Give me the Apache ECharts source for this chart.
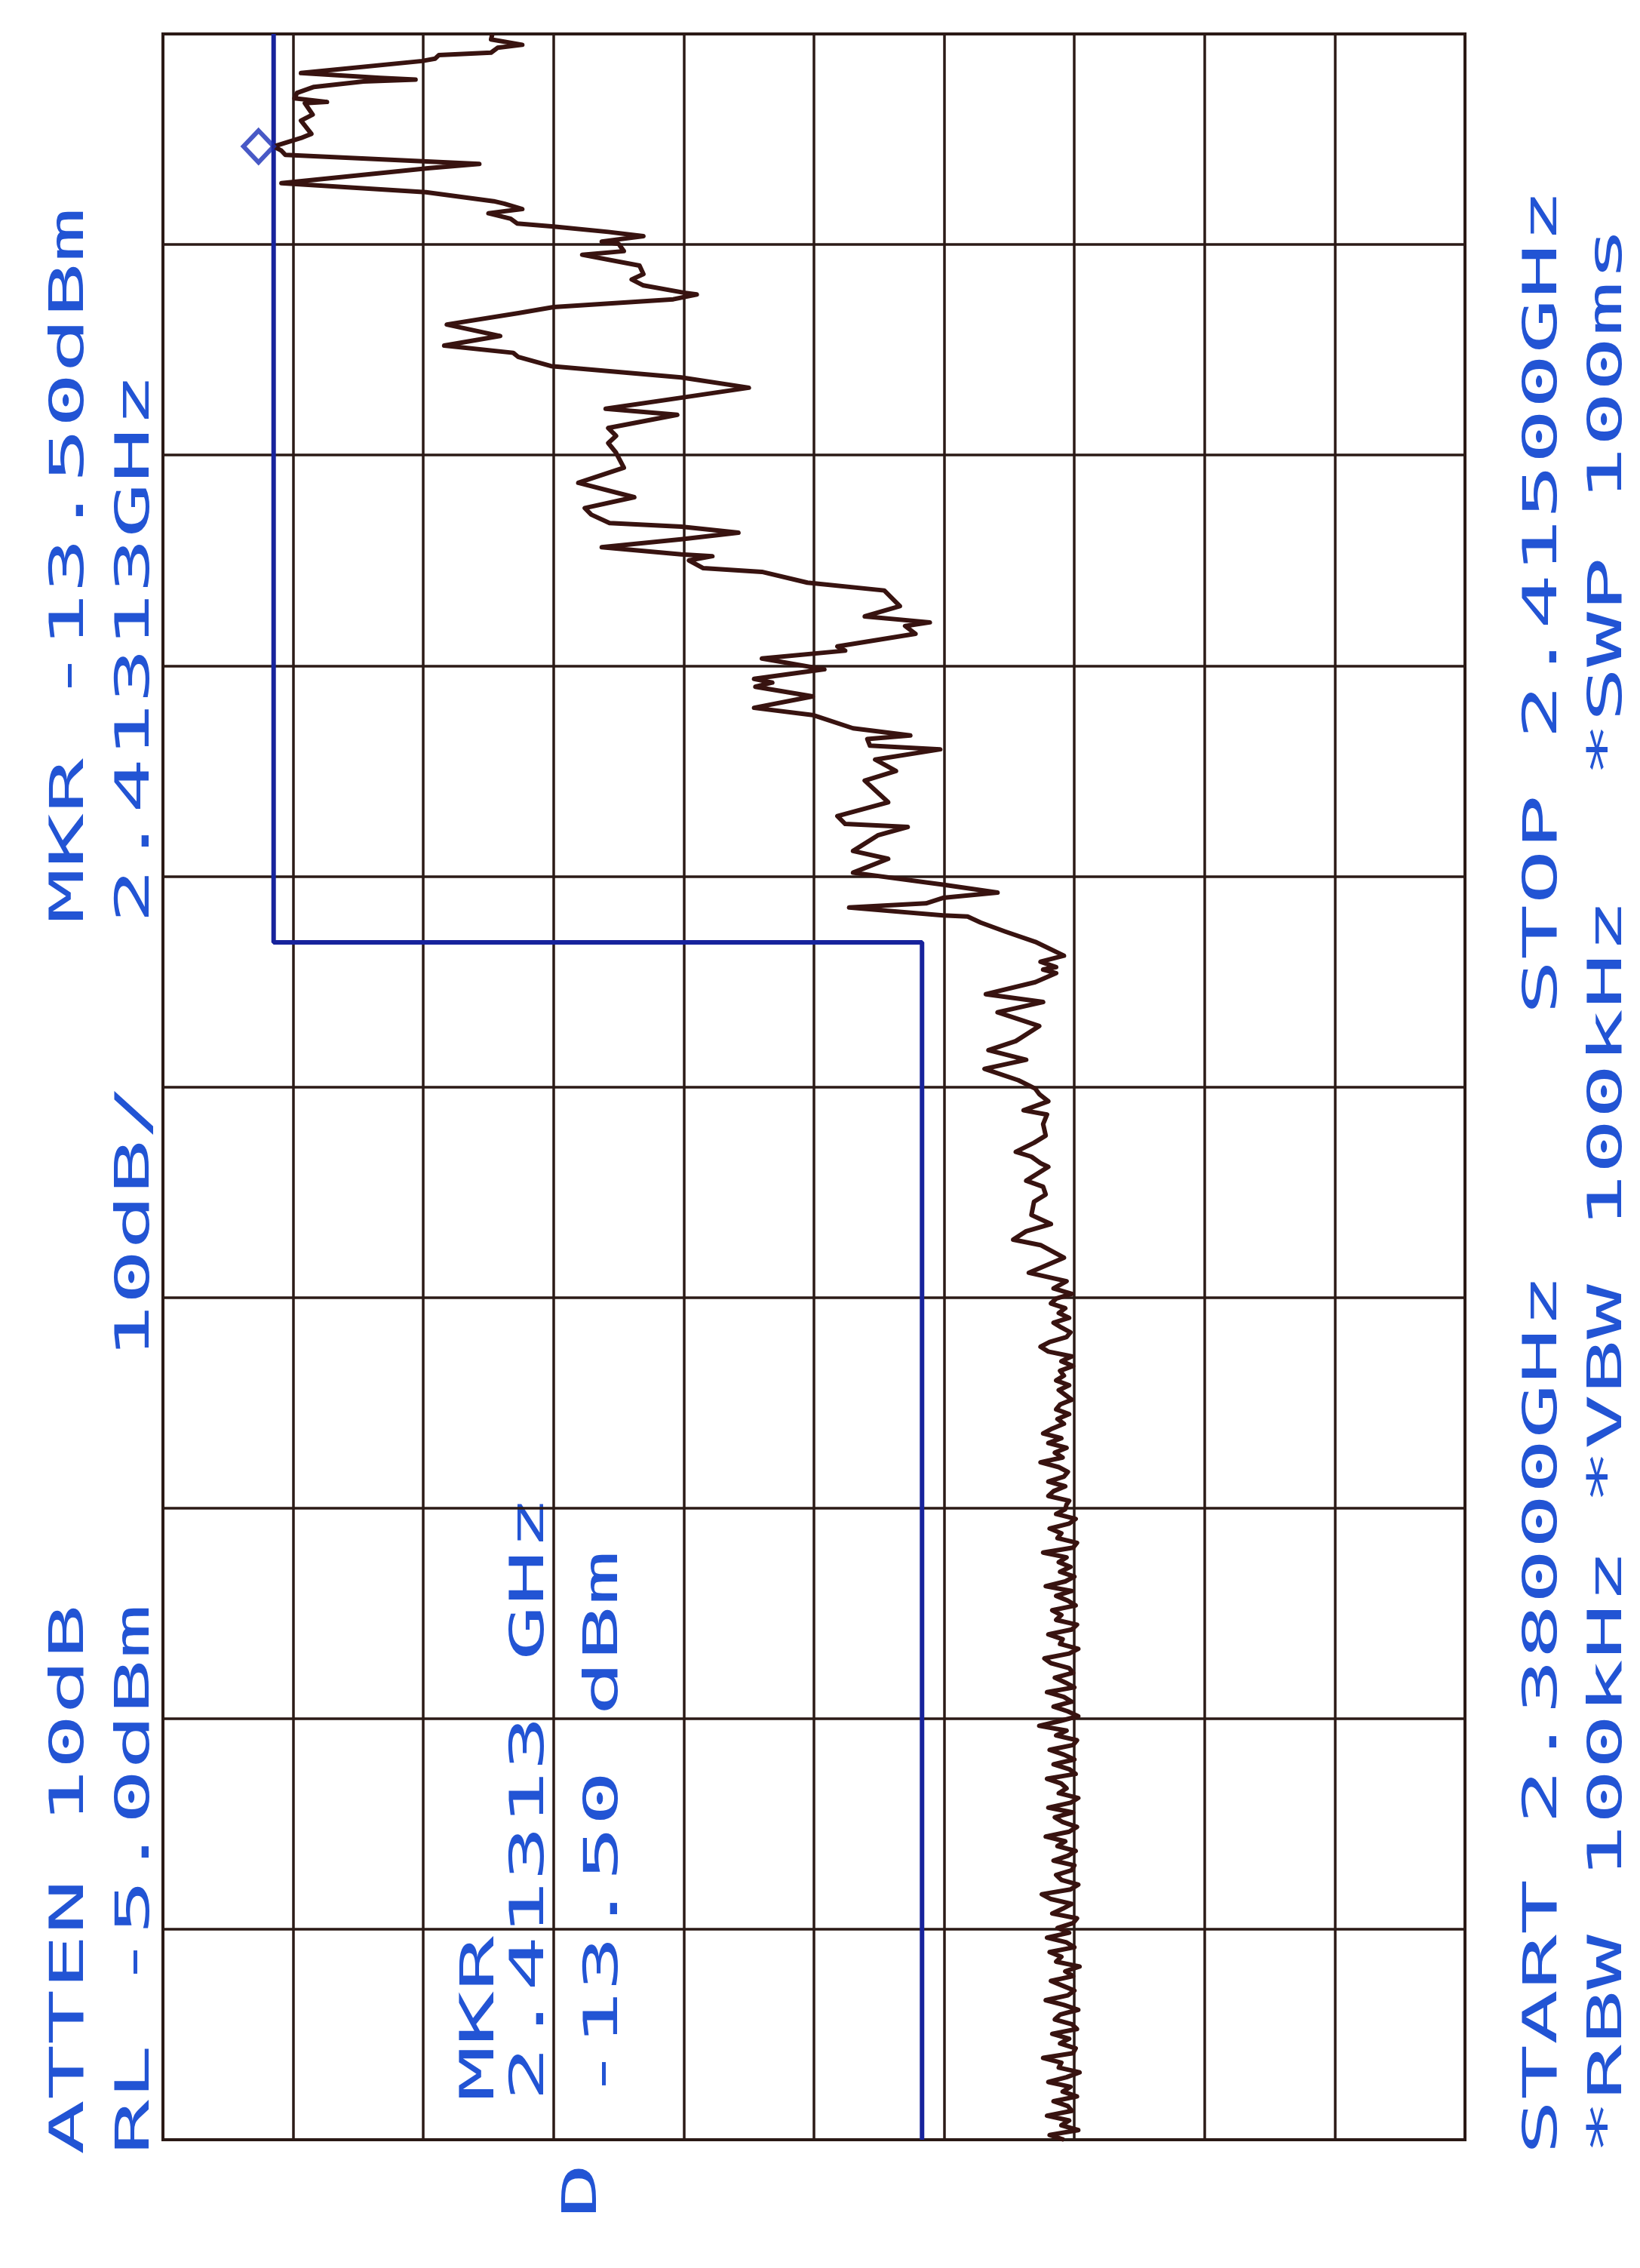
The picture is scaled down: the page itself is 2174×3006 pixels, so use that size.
<!DOCTYPE html>
<html><head><meta charset="utf-8">
<script src="https://cdn.jsdelivr.net/npm/echarts@6/dist/echarts.min.js"></script>
<style>html,body{margin:0;padding:0;background:#fff}#c{width:2174px;height:3006px}</style>
</head><body><div id="c"></div>
<script>
// Spectrum analyzer trace (frequency in MHz, amplitude in dBm), high part (descending freq)
const upperFreq = [2415.00,2414.91,2414.82,2414.77,2414.69,2414.65,2414.59,2414.55,2414.35,2414.27,2414.24,2414.21,2414.12,2414.02,2413.93,2413.87,2413.85,2413.66,2413.56,2413.34,2413.27,2413.13,2413.06,2412.99,2412.84,2412.77,2412.52,2412.37,2412.22,2412.18,2412.09,2412.02,2411.93,2411.85,2411.80,2411.71,2411.64,2411.55,2411.51,2411.39,2411.33,2411.15,2411.01,2410.92,2410.82,2410.70,2410.67,2410.59,2410.46,2410.36,2410.17,2409.98,2409.82,2409.70,2409.63,2409.48,2409.29,2409.12,2408.96,2408.77,2408.67,2408.45,2408.32,2408.20,2408.04,2407.79,2407.54,2407.30,2407.12,2407.01,2406.87,2406.81,2406.71,2406.60,2406.47,2406.35,2406.32,2406.25,2406.12,2406.06,2405.88,2405.75,2405.49,2405.32,2405.22,2405.16,2405.03,2404.82,2404.75,2404.62,2404.44,2404.28,2404.22,2404.15,2403.99,2403.80,2403.68,2403.46,2403.34,2403.28,2403.17,2403.11,2402.94,2402.75,2402.59,2402.23,2402.00,2401.87,2401.82,2401.68,2401.42,2401.29,2401.06,2400.86,2400.73,2400.64,2400.55,2400.48,2400.35,2400.33,2400.23,2400.08,2399.91,2399.68,2399.58,2399.49,2399.45,2399.39,2399.24,2399.04,2398.91,2398.74,2398.51,2398.26,2398.11,2397.95,2397.80,2397.61,2397.47,2397.38,2397.26,2397.11,2397.04,2396.88,2396.69,2396.57,2396.42,2396.34,2396.23,2396.17,2395.94,2395.84,2395.71,2395.59,2395.37,2395.22,2395.10,2394.96,2394.87,2394.66,2394.41,2394.27,2394.15,
2394.06,2393.98,2393.90,2393.82,2393.74,2393.66,2393.58,2393.50,2393.42,2393.34,2393.26,2393.18,2393.10,2393.02,2392.94,2392.86,2392.78,2392.70,2392.62,2392.54,2392.46,2392.38,2392.30,2392.22,2392.14,2392.06,2391.98,2391.90,2391.82,2391.74,2391.66,2391.58,2391.50,2391.42,2391.34,2391.26,2391.18,2391.10,2391.02,2390.94,2390.86,2390.78,2390.70,2390.62,2390.56];
const upperAmp = [-30.3,-30.2,-32.6,-30.7,-30.2,-26.2,-25.9,-24.9,-15.6,-21.7,-24.4,-20.4,-16.6,-15.3,-15.1,-17.6,-15.9,-16.5,-15.6,-16.4,-15.6,-13.5,-14.1,-14.4,-29.3,-25.5,-14.1,-25.2,-30.4,-31.2,-32.6,-30.0,-31.7,-32.2,-35.0,-39.2,-41.9,-38.7,-40.0,-40.4,-37.2,-41.6,-41.9,-41.0,-41.9,-45.0,-46.0,-44.2,-35.0,-32.3,-26.8,-30.9,-26.6,-31.9,-32.3,-34.8,-44.8,-50.0,-45.0,-39.0,-44.5,-39.2,-39.8,-39.2,-39.8,-40.4,-36.9,-41.2,-37.4,-37.9,-39.3,-44.8,-49.2,-44.8,-38.7,-44.8,-47.2,-45.4,-46.5,-51.0,-54.5,-60.4,-61.6,-58.9,-63.9,-62.0,-62.8,-56.8,-57.4,-51.0,-55.8,-50.4,-51.8,-50.5,-54.9,-50.4,-54.9,-58.0,-62.4,-59.1,-59.3,-64.7,-59.7,-61.3,-58.9,-60.7,-56.8,-57.4,-62.2,-59.9,-58.0,-60.7,-58.0,-64.9,-69.1,-64.9,-63.6,-57.7,-64.9,-66.8,-67.8,-69.7,-72.0,-74.2,-72.4,-73.6,-72.6,-73.6,-72.0,-68.2,-72.6,-69.1,-72.3,-70.5,-68.4,-71.3,-68.1,-70.7,-72.0,-72.3,-73.0,-71.1,-72.9,-72.6,-72.8,-71.9,-70.5,-71.7,-72.4,-73.0,-71.3,-72.6,-72.8,-71.9,-71.7,-73.2,-71.3,-70.3,-72.4,-74.2,-71.5,-74.4,-73.4,
-74.8,-73.6,-73.2,-74.3,-73.8,-74.6,-73.4,-74.0,-74.7,-74.4,-73.1,-72.4,-73.0,-74.8,-74.0,-74.9,-73.9,-74.2,-73.6,-74.6,-73.8,-74.3,-74.8,-73.9,-73.6,-74.6,-73.7,-74.2,-73.3,-72.6,-74.0,-73.0,-74.4,-73.5,-74.1,-72.4,-73.8,-74.5,-74.2,-73.0,-74.3,-73.4,-73.0,-74.6,-74.4];
// Noise floor part (ascending freq)
const noiseFreq = [2380.00,2380.08,2380.16,2380.24,2380.32,2380.40,2380.48,2380.56,2380.64,2380.72,
2380.80,2380.88,2380.96,2381.04,2381.12,2381.20,2381.28,2381.36,2381.44,2381.52,
2381.60,2381.68,2381.76,2381.84,2381.92,2382.00,2382.08,2382.16,2382.24,2382.32,
2382.40,2382.48,2382.56,2382.64,2382.72,2382.80,2382.88,2382.96,2383.04,2383.12,
2383.20,2383.28,2383.36,2383.44,2383.52,2383.60,2383.68,2383.76,2383.84,2383.92,
2384.00,2384.08,2384.16,2384.24,2384.32,2384.40,2384.48,2384.56,2384.64,2384.72,
2384.80,2384.88,2384.96,2385.04,2385.12,2385.20,2385.28,2385.36,2385.44,2385.52,
2385.60,2385.68,2385.76,2385.84,2385.92,2386.00,2386.08,2386.16,2386.24,2386.32,
2386.40,2386.48,2386.56,2386.64,2386.72,2386.80,2386.88,2386.96,2387.04,2387.12,
2387.20,2387.28,2387.36,2387.44,2387.52,2387.60,2387.68,2387.76,2387.84,2387.92,
2388.00,2388.08,2388.16,2388.24,2388.32,2388.40,2388.48,2388.56,2388.64,2388.72,
2388.80,2388.88,2388.96,2389.04,2389.12,2389.20,2389.28,2389.36,2389.44,2389.52,
2389.60,2389.68,2389.76,2389.84,2389.92,2390.00,2390.08,2390.16,2390.24,2390.32,
2390.40,2390.48];
const noiseAmp = [-74.2,-73.1,-75.3,-74.0,-74.6,-72.9,-74.8,-74.5,-73.4,-75.2,
-74.1,-74.7,-73.0,-74.4,-75.4,-73.8,-74.0,-72.6,-74.9,-75.1,
-73.9,-74.6,-73.3,-75.2,-74.8,-73.5,-73.9,-75.3,-74.2,-72.8,
-74.5,-75.0,-74.1,-73.2,-74.9,-74.3,-75.4,-73.6,-74.0,-73.1,
-75.0,-74.4,-72.9,-74.6,-73.7,-74.9,-75.2,-73.3,-74.1,-74.8,
-73.2,-72.5,-74.7,-75.3,-74.0,-73.6,-74.8,-75.0,-73.4,-74.5,
-75.1,-73.7,-74.3,-72.8,-74.6,-75.2,-74.1,-73.5,-74.9,-73.0,
-74.7,-75.3,-73.8,-74.4,-74.0,-72.9,-75.1,-74.6,-73.4,-75.0,
-74.2,-73.1,-74.9,-75.2,-73.6,-74.4,-72.3,-73.9,-75.3,-74.5,
-73.4,-74.8,-74.2,-72.9,-75.0,-74.3,-73.5,-74.9,-74.6,-73.2,
-72.7,-74.6,-75.3,-73.9,-74.1,-73.0,-74.8,-75.2,-73.6,-74.0,
-73.3,-75.1,-74.5,-73.6,-74.8,-72.8,-74.3,-75.0,-73.9,-74.7,
-73.8,-74.4,-72.6,-74.9,-75.2,-73.7,-74.0,-73.1,-74.6,-75.1,
-73.6,-74.3];
// Limit line (dBm) and break frequency (MHz)
const limitFreq = [2415.0, 2399.9, 2399.9, 2380.0];
const limitAmp = [-13.5, -13.5, -63.3, -63.3];
// Marker
const markerFreq = 2413.13, markerAmp = -13.5;
// Axis ranges
const startMHz = 2380, stopMHz = 2415, freqDiv = 3.5;
const refLevel = -5, dbPerDiv = 10, nDiv = 10;

const labels = [
  {t:'ATTEN 10dB', x:94, y:2856},
  {t:'MKR -13.50dBm', x:94, y:1224},
  {t:'RL -5.0dBm', x:181, y:2856},
  {t:'10dB/', x:181, y:1802},
  {t:'2.41313GHz', x:181, y:1224},
  {t:'MKR', x:638, y:2785},
  {t:'2.41313 GHz', x:704, y:2785},
  {t:'-13.50 dBm', x:802, y:2785},
  {t:'D', x:774, y:2940},
  {t:'START 2.38000GHz', x:2047, y:2856},
  {t:'STOP 2.41500GHz', x:2047, y:1345},
  {t:'*RBW 100kHz', x:2133, y:2856},
  {t:'*VBW 100kHz', x:2133, y:1994},
  {t:'*SWP 100ms', x:2133, y:1030}
];

const noisePairs = noiseFreq.map((f,i)=>[noiseAmp[i], f]);
const upperPairs = upperFreq.map((f,i)=>[upperAmp[i], f]).reverse();
const trace = noisePairs.concat(upperPairs);
const limit = limitFreq.map((f,i)=>[limitAmp[i], f]);

const GRID = '#2b1a16', BLUE_TXT = '#2254d4', BLUE_LINE = '#17239c';
const FS = 62, PITCH = 73;
const sx = PITCH / (0.602 * FS);

const chart = echarts.init(document.getElementById('c'), null, {renderer:'canvas'});
chart.setOption({
  animation:false,
  backgroundColor:'#ffffff',
  grid:{left:216, top:45, width:1726, height:2791, show:true, borderColor:GRID, borderWidth:4, backgroundColor:'transparent'},
  xAxis:[
    {type:'value', min:refLevel - dbPerDiv*nDiv, max:refLevel, inverse:true, show:false},
    {type:'value', min:0, max:dbPerDiv*nDiv, interval:dbPerDiv, position:'top',
     axisLine:{show:false}, axisTick:{show:false}, axisLabel:{show:false},
     splitLine:{show:true, lineStyle:{color:GRID, width:3.5}}}
  ],
  yAxis:[{type:'value', min:startMHz, max:stopMHz, interval:freqDiv,
     axisLine:{show:false}, axisTick:{show:false}, axisLabel:{show:false},
     splitLine:{show:true, lineStyle:{color:GRID, width:3.5}}}],
  series:[
    {type:'line', xAxisIndex:0, yAxisIndex:0, data:limit, symbol:'none', lineStyle:{color:BLUE_LINE, width:6}, z:2},
    {type:'line', xAxisIndex:0, yAxisIndex:0, data:trace, symbol:'none', lineStyle:{color:'#381310', width:6, join:'round'}, z:3},
    {type:'scatter', xAxisIndex:0, yAxisIndex:0, data:[[markerAmp, markerFreq]], symbol:'diamond', symbolSize:[40,42], symbolOffset:[-20,0],
     itemStyle:{color:'rgba(0,0,0,0)', borderColor:'#1a30b8', borderWidth:6}, z:4}
  ],
  graphic: labels.map(l => ({
    type:'text', x:l.x, y:l.y, rotation:Math.PI/2, scaleX:sx, scaleY:1,
    style:{text:l.t, font:FS+'px "DejaVu Sans Mono"', fill:BLUE_TXT, textAlign:'left', textVerticalAlign:'middle', verticalAlign:'middle'}
  }))
});
</script></body></html>
